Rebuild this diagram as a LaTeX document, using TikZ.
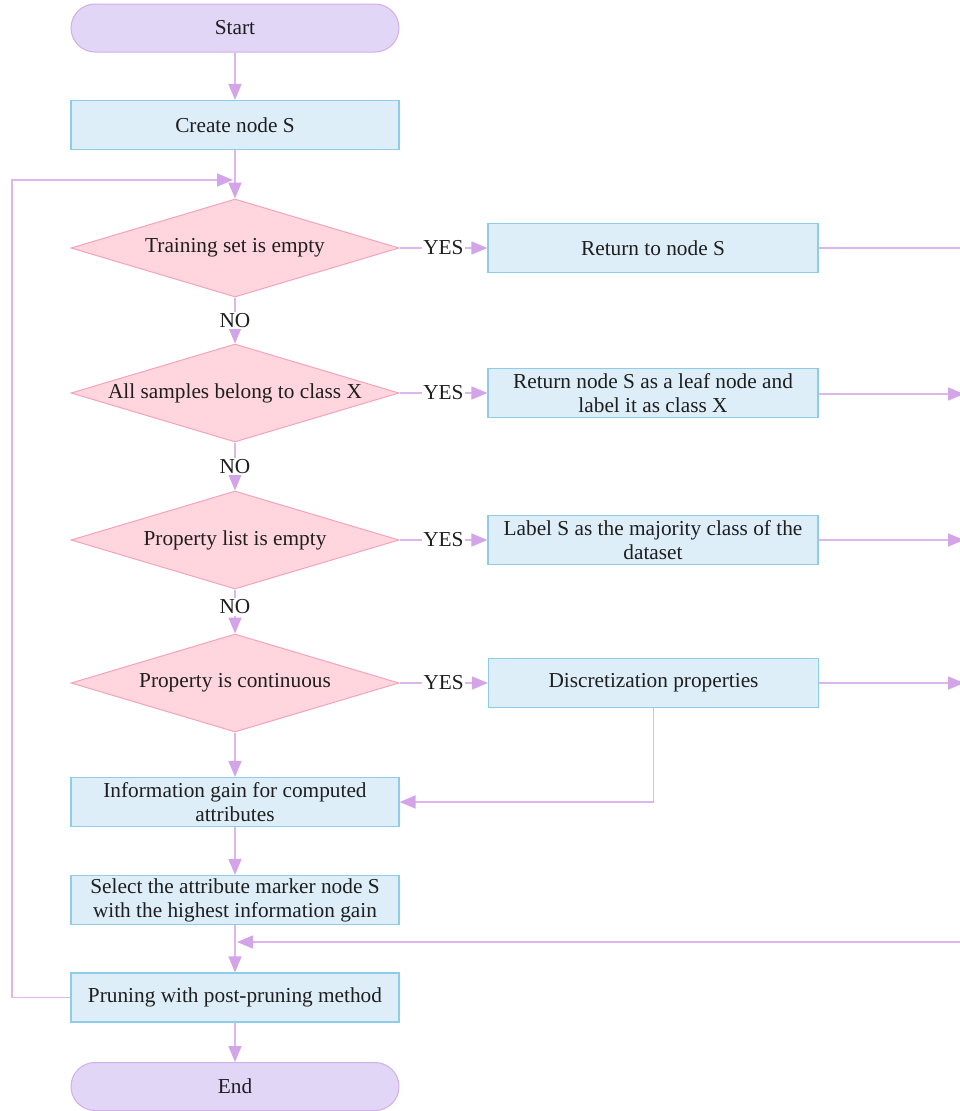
\documentclass[tikz,border=0pt]{standalone}
\usepackage{fontspec}
\setmainfont{Liberation Serif}
\usetikzlibrary{shapes.geometric,arrows.meta}
\definecolor{termfill}{HTML}{E1D6F6}
\definecolor{termline}{HTML}{D3AEE8}
\definecolor{boxfill}{HTML}{DEEEF9}
\definecolor{boxline}{HTML}{8ECDE8}
\definecolor{decfill}{HTML}{FFD6DD}
\definecolor{decline}{HTML}{F5A3BC}
\definecolor{wire}{HTML}{DDB6EC}
\definecolor{tipcol}{HTML}{D4A4E8}
\definecolor{ink}{HTML}{1E1E1E}
% zero-width text so the diamond keeps its fixed size
\newcommand\zerowd[1]{\makebox[0pt][c]{#1}}
\begin{document}
\begin{tikzpicture}[x=1pt,y=-1pt,
  every node/.style={font=\fontsize{21.3}{24}\selectfont, text=ink},
  terminal/.style={draw=termline, fill=termfill, line width=1pt, rounded corners=24pt,
    minimum width=328pt, minimum height=48pt, inner sep=0pt},
  procbox/.style={draw=boxline, fill=boxfill, line width=1.2pt,
    minimum width=328pt, minimum height=49pt, inner sep=0.5pt, align=center},
  decision/.style={diamond, draw=decline, fill=decfill, line width=1pt,
    minimum width=328pt, minimum height=98pt, inner sep=0pt, aspect=3.35},
  flow/.style={draw=wire, line width=1.6pt,
    -{Triangle[length=16pt,width=13pt,fill=tipcol,color=tipcol]}},
  plain/.style={draw=wire, line width=1.6pt},
  tag/.style={fill=white, inner sep=1.5pt}
]
\useasboundingbox (0,0) rectangle (960,1111);
\clip (0,0) rectangle (960,1111);

% main column
\node[terminal] (start) at (235,28) {Start};
\node[procbox] (create) at (235,125) {Create node S};
\node[decision] (d1) at (235,248) {\zerowd{Training set is empty}};
\node[decision] (d2) at (235,393) {\zerowd{All samples belong to class X}};
\node[decision] (d3) at (235,540) {\zerowd{Property list is empty}};
\node[decision] (d4) at (235,683) {\zerowd{Property is continuous}};
\node[procbox] (gain) at (235,802) {Information gain for computed\\attributes};
\node[procbox] (select) at (235,900) {Select the attribute marker node S\\with the highest information gain};
\node[procbox] (prune) at (235,997.5) {Pruning with post-pruning method};
\node[terminal] (end) at (235,1086.5) {End};

% right column
\node[procbox, minimum width=330pt] (r1) at (653,248) {Return to node S};
\node[procbox, minimum width=330pt] (r2) at (653,393) {Return node S as a leaf node and\\label it as class X};
\node[procbox, minimum width=330pt] (r3) at (653,540) {Label S as the majority class of the\\dataset};
\node[procbox, minimum width=330pt] (r4) at (653.5,683) {Discretization properties};

% merge points and exits at the right edge
\coordinate (loopin) at (235,180);
\coordinate (mergein) at (235,942);
\coordinate (edge1) at (961,248);
\coordinate (edge2) at (964,394);
\coordinate (edge3) at (964,540);
\coordinate (edge4) at (964,683);
\coordinate (edge5) at (961,942);

% vertical flow
\draw[flow] (start) -- (create);
\draw[flow] (create) -- (d1);
\draw[flow] (d1) -- node[tag]{NO} (d2);
\draw[flow] (d2) -- node[tag]{NO} (d3);
\draw[flow] (d3) -- node[tag, yshift=4.5pt]{NO} (d4);
\draw[flow] (d4) -- (gain);
\draw[flow] (gain) -- (select);
\draw[flow] (select) -- (prune);
\draw[flow] (prune) -- (end);

% YES branches
\draw[flow] (d1) -- node[tag]{YES} (r1);
\draw[flow] (d2) -- node[tag]{YES} (r2);
\draw[flow] (d3) -- node[tag]{YES} (r3);
\draw[flow] (d4) -- node[tag]{YES} (r4);

% outputs to the right
\draw[plain] (r1.east) -- (edge1);
\draw[flow] (r2.east |- edge2) -- (edge2);
\draw[flow] (r3.east) -- (edge3);
\draw[flow] (r4.east) -- (edge4);

% discretized attributes feed the gain computation
\draw[flow] (r4.south) |- (gain.east);

% return path above pruning
\draw[flow] (edge5) -- ([xshift=2pt]mergein);

% loop back from pruning
\draw[flow] (prune.west) -- (12,997.5) -- (12,180) -- ([xshift=-2pt]loopin);
\end{tikzpicture}
\end{document}
